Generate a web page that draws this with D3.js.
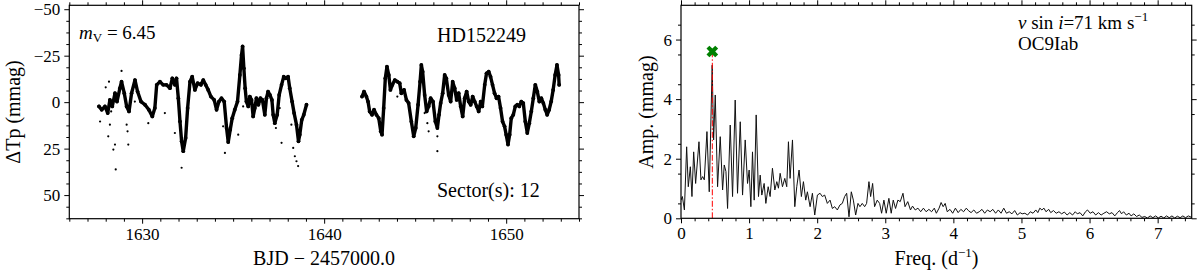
<!DOCTYPE html>
<html><head><meta charset="utf-8">
<script src="https://cdn.jsdelivr.net/npm/d3@7"></script>
<style>
html,body{margin:0;padding:0;background:#fff;}
svg{display:block;}
text{font-family:"Liberation Serif","Times New Roman",serif;fill:#000;}
</style></head>
<body>
<svg id="c" width="1200" height="273"></svg>
<script>
// ---- Light curve, TESS sector 12 (BJD - 2457000, mmag) ----
const seg1T = [1627.63,1627.78,1627.96,1628.11,1628.23,1628.36,1628.51,1628.62,1628.78,1628.87,1629.02,1629.15,1629.28,1629.42,1629.61,1629.75,1629.94,1630.16,1630.37,1630.56,1630.70,1630.80,1630.98,1631.16,1631.34,1631.53,1631.66,1631.80,1631.89,1631.99,1632.08,1632.17,1632.26,1632.39,1632.50,1632.63,1632.75,1632.90,1633.05,1633.23,1633.36,1633.49,1633.63,1633.78,1633.96,1634.09,1634.22,1634.36,1634.51,1634.64,1634.73,1634.84,1634.95,1635.09,1635.24,1635.37,1635.46,1635.52,1635.59,1635.66,1635.73,1635.83,1635.92,1636.01,1636.10,1636.19,1636.28,1636.39,1636.50,1636.61,1636.74,1636.83,1636.92,1637.02,1637.13,1637.20,1637.29,1637.42,1637.53,1637.66,1637.78,1637.89,1638.02,1638.11,1638.24,1638.35,1638.48,1638.59,1638.66,1638.77,1638.88,1639.03];
const seg1V = [2.3,4.1,2.3,5.9,-1.2,2.3,-4.8,-0.3,-7.5,-11.0,-4.8,2.3,5.0,-4.8,-11.9,-5.7,-0.3,1.4,4.1,7.7,3.2,-9.3,-11.0,-9.3,-9.3,-7.5,-12.8,-9.3,-12.8,-2.1,10.4,21.1,26.4,19.3,3.2,-11.0,-13.7,-6.6,-10.2,-9.3,-11.9,-9.3,-6.6,-3.0,-1.2,4.1,-0.3,-2.1,-0.3,13.9,21.5,14.8,8.6,4.1,-0.3,-14.6,-25.3,-30.0,-18.2,-7.5,-0.3,2.3,-3.0,-1.2,7.7,3.2,-2.1,1.4,-2.1,-1.2,6.8,-2.1,-5.7,-3.9,-1.2,6.8,11.3,6.8,-3.9,-9.3,-13.7,-12.8,-13.7,-7.5,-0.3,5.9,12.1,21.1,17.5,9.5,6.8,1.4];
const seg2T = [1642.08,1642.19,1642.32,1642.41,1642.50,1642.63,1642.74,1642.87,1643.00,1643.11,1643.18,1643.27,1643.36,1643.45,1643.55,1643.64,1643.75,1643.88,1644.02,1644.15,1644.24,1644.39,1644.52,1644.64,1644.79,1644.92,1645.03,1645.16,1645.27,1645.34,1645.41,1645.52,1645.63,1645.74,1645.85,1645.98,1646.11,1646.22,1646.31,1646.40,1646.51,1646.62,1646.71,1646.84,1646.95,1647.06,1647.17,1647.28,1647.39,1647.50,1647.61,1647.72,1647.83,1647.94,1648.05,1648.16,1648.27,1648.38,1648.49,1648.60,1648.69,1648.82,1648.92,1649.04,1649.14,1649.25,1649.36,1649.47,1649.58,1649.69,1649.80,1649.91,1650.00,1650.10,1650.19,1650.28,1650.39,1650.50,1650.61,1650.72,1650.83,1650.94,1651.05,1651.16,1651.27,1651.38,1651.49,1651.60,1651.71,1651.82,1651.93,1652.04,1652.15,1652.25,1652.36,1652.47,1652.58,1652.69,1652.79,1652.88,1652.91];
const seg2V = [-3.0,-5.7,-3.0,-0.3,5.0,6.8,4.1,6.8,8.6,15.7,17.5,3.2,-12.8,-19.1,-14.6,-6.6,-9.3,-11.9,-11.0,-10.2,-4.8,-6.6,-1.2,0.5,10.4,18.4,13.9,1.4,-11.0,-20.0,-16.4,-3.9,5.0,2.3,-2.1,-0.3,10.4,13.9,6.8,0.5,-4.8,-14.6,-12.8,-3.9,-0.3,-11.0,-7.5,-1.2,-4.8,2.3,7.7,-2.1,-5.7,-0.3,1.4,-3.0,-0.3,2.3,5.0,-0.3,2.3,-9.3,-15.5,-16.4,-13.7,-9.3,-4.8,-2.1,-3.0,3.2,10.4,13.0,17.5,22.8,17.5,8.6,6.8,2.3,1.4,2.3,-0.3,0.5,10.4,16.6,11.3,5.0,-2.1,-9.3,-5.7,-0.3,-2.1,0.5,4.1,6.8,4.1,-0.3,-6.6,-14.6,-20.0,-14.6,-9.3];
const outT = [1628.87,1628.18,1628.14,1628.42,1628.51,1628.23,1628.55,1627.69,1629.15,1629.20,1629.24,1629.60,1631.80,1632.17,1631.25,1630.34,1634.45,1634.55,1635.28,1637.66,1637.35,1638.30,1638.39,1638.48,1638.57,1637.56,1635.55,1638.20,1645.52,1645.67,1645.74,1646.22,1646.22,1644.02,1628.00,1628.30];
const outV = [-16.8,-11.0,18.4,25.5,22.8,12.1,36.2,10.4,12.1,15.7,22.8,-0.3,16.6,35.3,5.9,11.3,13.0,27.3,17.5,21.9,13.9,24.6,29.1,31.8,34.4,3.2,2.3,12.1,5.9,11.3,15.7,18.4,26.4,-3.0,-8.0,5.0];

// ---- Amplitude spectrum ----
const freq = [0,0.02,0.05,0.083,0.107,0.137,0.161,0.186,0.215,0.264,0.293,0.318,0.342,0.381,0.415,0.458,0.479,0.503,0.537,0.576,0.611,0.635,0.660,0.684,0.723,0.757,0.796,0.830,0.870,0.904,0.943,0.977,1.001,1.026,1.050,1.075,1.104,1.138,1.163,1.187,1.221,1.246,1.280,1.309,1.343,1.378,1.407,1.431,1.456,1.490,1.524,1.553,1.578,1.602,1.637,1.671,1.700,1.734,1.768,1.798,1.832,1.856,1.896,1.930,1.964,2.003,2.042,2.076,2.110,2.149,2.189,2.223,2.257,2.296,2.335,2.369,2.403,2.433,2.467,2.501,2.531,2.565,2.599,2.628,2.662,2.697,2.726,2.760,2.785,2.814,2.843,2.882,2.917,2.946,2.980,3.014,3.053,3.087,3.117,3.151,3.185,3.22,3.26,3.29,3.33,3.37,3.40,3.44,3.48,3.52,3.56,3.60,3.64,3.68,3.72,3.75,3.79,3.82,3.85,3.88,3.91,3.95,3.99,4.03,4.07,4.11,4.15,4.19,4.22,4.26,4.30,4.34,4.38,4.42,4.46,4.50,4.54,4.58,4.62,4.66,4.70,4.74,4.78,4.82,4.86,4.90,4.94,4.98,5.01,5.05,5.09,5.13,5.17,5.21,5.24,5.27,5.30,5.33,5.36,5.40,5.43,5.47,5.51,5.55,5.59,5.63,5.67,5.71,5.75,5.79,5.82,5.86,5.90,5.94,5.97,6.01,6.05,6.09,6.13,6.17,6.21,6.25,6.29,6.33,6.37,6.41,6.44,6.47,6.50,6.54,6.58,6.61,6.65,6.69,6.73,6.77,6.81,6.85,6.89,6.93,6.97,7.01,7.05,7.09,7.13,7.17,7.21,7.25,7.29,7.33,7.37,7.41,7.45,7.50];
const amp = [0.61,0.73,0.28,2.40,1.06,1.73,0.73,2.23,1.17,2.57,1.29,1.40,1.29,2.91,0.89,5.14,2.63,4.14,1.06,2.74,0.95,1.79,1.57,0.33,3.13,0.73,3.97,0.84,3.24,0.78,2.63,1.17,1.62,0.39,2.23,0.61,3.47,0.73,1.45,0.78,1.17,0.50,1.06,0.73,1.68,0.95,1.23,1.01,1.51,1.06,1.34,1.06,2.57,1.34,2.63,0.39,1.06,1.62,0.73,1.23,0.61,0.89,0.39,0.84,0.11,0.78,0.84,0.73,0.78,0.50,0.61,0.33,0.39,0.28,0.45,0.50,0.73,0.84,0.05,0.89,0.61,0.11,0.50,0.39,0.50,0.39,0.50,1.23,0.73,1.17,0.39,0.61,0.50,0.17,0.61,0.17,0.67,0.17,0.61,0.33,0.61,0.56,0.84,0.39,0.56,0.28,0.41,0.28,0.34,0.22,0.34,0.22,0.30,0.22,0.34,0.17,0.34,0.53,0.39,0.50,0.22,0.30,0.17,0.34,0.19,0.30,0.22,0.34,0.26,0.19,0.28,0.17,0.22,0.30,0.17,0.28,0.22,0.30,0.17,0.28,0.17,0.34,0.17,0.22,0.15,0.26,0.11,0.19,0.15,0.17,0.11,0.22,0.17,0.28,0.19,0.34,0.28,0.34,0.22,0.30,0.19,0.26,0.17,0.22,0.15,0.21,0.11,0.19,0.11,0.22,0.15,0.19,0.08,0.22,0.28,0.17,0.22,0.11,0.19,0.11,0.17,0.22,0.15,0.19,0.08,0.19,0.26,0.15,0.22,0.11,0.17,0.08,0.15,0.06,0.11,0.03,0.06,0.01,0.08,0.02,0.08,0.01,0.07,0.01,0.08,0.02,0.08,0.01,0.07,0.02,0.08,0.02,0.08,0.03];
const peakFreq = [0.46];
const peakAmp = [5.6];

// tick values
const lcXTicks = [1630,1640,1650];
const lcYTicks = [-50,-25,0,25,50];
const psXTicks = [0,1,2,3,4,5,6,7];
const psYTicks = [0,2,4,6];

const svg = d3.select("#c");
const FONT = "Liberation Serif";

const xL = d3.scaleLinear([1626,1654],[69.3,579]);
const yL = d3.scaleLinear([-52.1,62.7],[5.3,218.7]);
const xR = d3.scaleLinear([0,7.5],[681,1191.7]);
const yR = d3.scaleLinear([0,7.15],[218.3,5.3]);

function frame(x, y, xMaj, xMin, yMaj, yMin) {
  const g = svg.append("g");
  const [x0,x1] = x.range();
  const top = Math.min(...y.range()), bot = Math.max(...y.range());
  const mk = (axis, tr, vals, size, labels) => {
    const a = axis.tickValues(vals).tickSize(size).tickSizeOuter(0).tickPadding(4)
      .tickFormat(labels ? d3.format("d") : "");
    const gg = g.append("g").attr("transform", tr).call(a);
    gg.select(".domain").remove();
    gg.selectAll("line").attr("stroke","#000").attr("stroke-width",1);
    gg.selectAll("text").attr("font-family",FONT).attr("font-size",17).attr("fill","#000");
    return gg;
  };
  const b = mk(d3.axisBottom(x), `translate(0,${bot})`, xMaj, 5, true);
  b.selectAll("text").attr("dy","0.71em").attr("y",9);
  mk(d3.axisBottom(x), `translate(0,${bot})`, xMin, 3, false);
  mk(d3.axisTop(x), `translate(0,${top})`, xMaj, 5, false);
  mk(d3.axisTop(x), `translate(0,${top})`, xMin, 3, false);
  mk(d3.axisLeft(y), `translate(${x0},0)`, yMaj, 5, true);
  mk(d3.axisLeft(y), `translate(${x0},0)`, yMin, 3, false);
  mk(d3.axisRight(y), `translate(${x1},0)`, yMaj, 5, false);
  mk(d3.axisRight(y), `translate(${x1},0)`, yMin, 3, false);
  g.append("rect").attr("x",x0).attr("y",top).attr("width",x1-x0).attr("height",bot-top)
    .attr("fill","none").attr("stroke","#000").attr("stroke-width",1.2);
}

// ---- left panel: light curve ----
const lcMinorX = d3.range(1626,1654.01,1).filter(v=>!lcXTicks.includes(v));
const lcMinorY = d3.range(-50,62.6,6.25).filter(v=>!lcYTicks.includes(v));
const lineL = d3.line().x(d=>xL(d[0])).y(d=>yL(d[1])).curve(d3.curveLinear);
svg.append("clipPath").attr("id","clipL").append("rect")
  .attr("x",69.3).attr("y",5.3).attr("width",579-69.3).attr("height",218.7-5.3);
const gL = svg.append("g").attr("clip-path","url(#clipL)");
[[seg1T,seg1V],[seg2T,seg2V]].forEach(([T,V])=>{
  const pts = T.map((t,i)=>[t,V[i]]);
  gL.append("path").attr("d",lineL(pts)).attr("fill","none").attr("stroke","#000")
    .attr("stroke-width",3.4).attr("stroke-linejoin","round").attr("stroke-linecap","round");
  gL.selectAll(null).data(pts).enter().append("circle")
    .attr("cx",d=>xL(d[0])).attr("cy",d=>yL(d[1])).attr("r",1.9).attr("fill","#000");
});
gL.selectAll(null).data(outT.map((t,i)=>[t,outV[i]])).enter().append("circle")
  .attr("cx",d=>xL(d[0])).attr("cy",d=>yL(d[1])).attr("r",1.1).attr("fill","#000");
frame(xL, yL, lcXTicks, lcMinorX, lcYTicks, lcMinorY);

// ---- right panel: amplitude spectrum ----
const psMinorX = d3.range(0,7.51,0.2).map(v=>+v.toFixed(2)).filter(v=>Math.abs(v-Math.round(v))>1e-6);
const psMinorY = d3.range(0.5,7.1,1);
svg.append("clipPath").attr("id","clipR").append("rect")
  .attr("x",681).attr("y",5.3).attr("width",1191.7-681).attr("height",218.3-5.3);
const gR = svg.append("g").attr("clip-path","url(#clipR)");
const lineR = d3.line().x(d=>xR(d[0])).y(d=>yR(d[1]));
gR.append("path").attr("d",lineR(freq.map((f,i)=>[f,amp[i]]))).attr("fill","none")
  .attr("stroke","#111").attr("stroke-width",1).attr("stroke-linejoin","round");
gR.append("line").attr("x1",xR(peakFreq[0])).attr("x2",xR(peakFreq[0]))
  .attr("y1",yR(0)).attr("y2",yR(peakAmp[0]))
  .attr("stroke","#ff0000").attr("stroke-width",1).attr("stroke-dasharray","6,2,1.5,2");
frame(xR, yR, psXTicks, psMinorX, psYTicks, psMinorY);
svg.append("path").attr("d",d3.symbol(d3.symbolCross,85)())
  .attr("transform",`translate(${xR(peakFreq[0])},${yR(peakAmp[0])}) rotate(45)`)
  .attr("fill","#008000");

// ---- texts ----
const T = (x,y,size,anchor)=>svg.append("text").attr("x",x).attr("y",y)
  .attr("font-size",size).attr("text-anchor",anchor||"start");

const mv = T(79,39,19);
mv.append("tspan").attr("font-style","italic").text("m");
mv.append("tspan").attr("font-size",13).attr("dy",3).text("V");
mv.append("tspan").attr("dy",-3).text(" = 6.45");
T(437,41.5,20).text("HD152249");
T(437,196.5,20).text("Sector(s): 12");
T(324,265,20,"middle").text("BJD − 2457000.0");
svg.append("text").attr("transform","translate(20,112) rotate(-90)")
  .attr("text-anchor","middle").attr("font-size",20).text("ΔTp (mmag)");

const vs = T(1018,28.5,19);
vs.append("tspan").attr("font-style","italic").text("v");
vs.append("tspan").text(" sin ");
vs.append("tspan").attr("font-style","italic").text("i");
vs.append("tspan").text("=71 km s");
vs.append("tspan").attr("font-size",13).attr("dy",-8).text("−1");
T(1018,50,19).text("OC9Iab");
const fq = T(936.5,265,20,"middle");
fq.append("tspan").text("Freq. (d");
fq.append("tspan").attr("font-size",13).attr("dy",-8).text("−1");
fq.append("tspan").attr("dy",8).text(")");
svg.append("text").attr("transform","translate(653,112) rotate(-90)")
  .attr("text-anchor","middle").attr("font-size",20).text("Amp. (mmag)");
</script>
</body></html>
